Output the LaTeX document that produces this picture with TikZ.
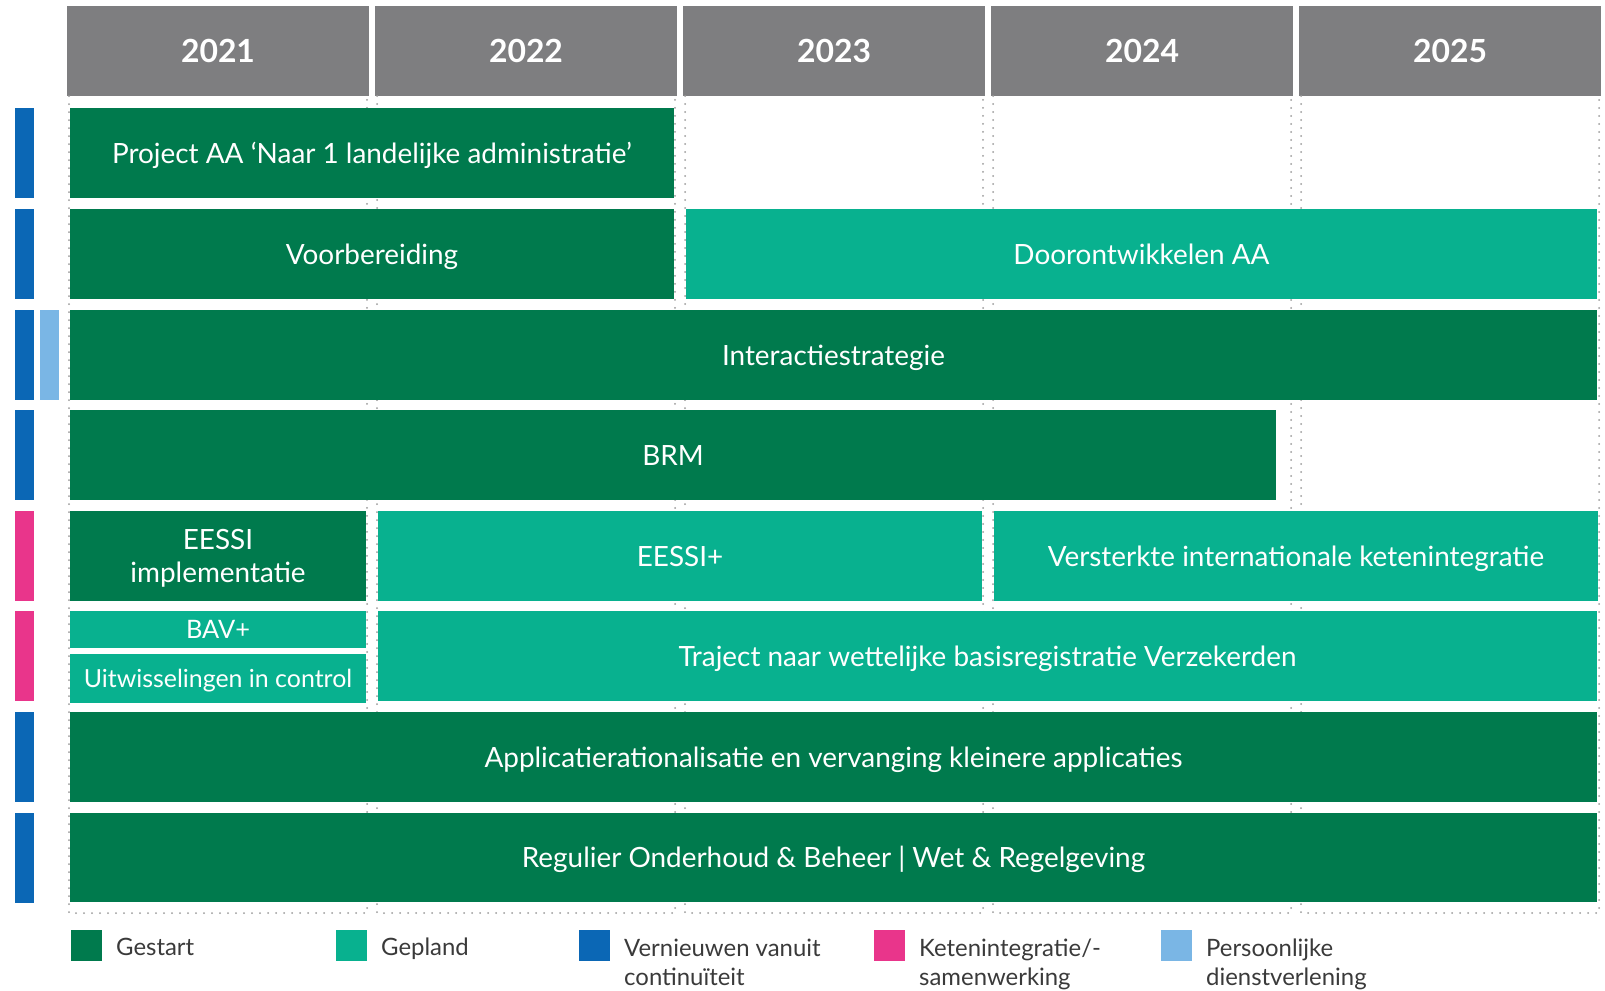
\documentclass[tikz,border=0pt]{standalone}
\usepackage{fontspec}
\setmainfont{Lato}
\definecolor{dg}{HTML}{007A4D}
\definecolor{tl}{HTML}{08B18F}
\definecolor{bl}{HTML}{0B67B5}
\definecolor{mg}{HTML}{E9358B}
\definecolor{lb}{HTML}{7AB6E5}
\definecolor{hd}{HTML}{7E7E80}
\definecolor{dt}{HTML}{9A9A9A}
\definecolor{lt}{HTML}{3A3A3A}
\tikzset{
  x=1bp, y=-1bp,
  cell/.style={inner sep=0pt, outer sep=0pt, draw=none, anchor=north west, text=white, align=center,
    font=\fontsize{28}{33}\selectfont, text height=20bp, text depth=0bp},
  hdr/.style={cell, fill=hd, minimum width=302bp, minimum height=90bp, font=\fontsize{32}{36}\selectfont\bfseries,
    text height=23bp},
  sq/.style={inner sep=0pt, outer sep=0pt, anchor=north west, minimum width=31bp, minimum height=31bp},
  lg/.style={anchor=west, inner sep=0pt, text=lt, align=left, font=\fontsize{24}{29}\selectfont},
  dots/.style={dt, line width=2bp, line cap=round, dash pattern=on 0bp off 8bp},
}
\begin{document}
\begin{tikzpicture}
\useasboundingbox (0,0) rectangle (1605,990);
% headers
\foreach \i/\yr in {0/2021,1/2022,2/2023,3/2024,4/2025}{
  \node[hdr] (h\yr) at ({67+308*\i},6) {\yr};
}
% dotted column outlines
\foreach \i in {0,...,4}{
  \coordinate (ct\i) at ({69+308*\i},96);
  \coordinate (cb\i) at ({69+308*\i},913);
  \coordinate (dt\i) at ({367+308*\i},96);
  \coordinate (db\i) at ({367+308*\i},913);
  \draw[dots] (ct\i) -- (cb\i) -- (db\i) -- (dt\i);
}
% left markers
\foreach \r/\t/\c in {1/108/bl,2/209/bl,3/310/bl,4/410/bl,5/511/mg,6/611/mg,7/712/bl,8/813/bl}{
  \node[sq, fill=\c, minimum width=19bp, minimum height=90bp] (m\r) at (15,\t) {};
}
\node[sq, fill=lb, minimum width=19bp, minimum height=90bp] (m3b) at (40,310) {};
% bars
\node[cell, fill=dg, minimum width=604bp, minimum height=90bp] (pa) at (70,108) {Project AA ‘Naar 1 landelijke administratie’};
\node[cell, fill=dg, minimum width=604bp, minimum height=90bp] (vb) at (70,209) {Voorbereiding};
\node[cell, fill=tl, minimum width=911bp, minimum height=90bp] (da) at (686,209) {Doorontwikkelen AA};
\node[cell, fill=dg, minimum width=1527bp, minimum height=90bp] (is) at (70,310) {Interactiestrategie};
\node[cell, fill=dg, minimum width=1206bp, minimum height=90bp] (brm) at (70,410) {BRM};
\node[cell, fill=dg, minimum width=296bp, minimum height=90bp, text height=53bp, text depth=0bp] (ei) at (70,511) {EESSI\\implementatie};
\node[cell, fill=tl, minimum width=604bp, minimum height=90bp] (ep) at (378,511) {EESSI+};
\node[cell, fill=tl, minimum width=604bp, minimum height=90bp] (vik) at (994,511) {Versterkte internationale ketenintegratie};
\node[cell, fill=tl, minimum width=296bp, minimum height=37bp, font=\fontsize{25.5}{30}\selectfont, text height=18bp] (bav) at (70,611) {BAV+};
\node[cell, fill=tl, minimum width=296bp, minimum height=49bp, font=\fontsize{25}{30}\selectfont, text height=18bp] (uic) at (70,654) {Uitwisselingen in control};
\node[cell, fill=tl, minimum width=1219bp, minimum height=90bp] (tr) at (378,611) {Traject naar wettelijke basisregistratie Verzekerden};
\node[cell, fill=dg, minimum width=1527bp, minimum height=90bp] (ap) at (70,712) {Applicatierationalisatie en vervanging kleinere applicaties};
\node[cell, fill=dg, minimum width=1527bp, minimum height=89bp] (ro) at (70,813) {Regulier Onderhoud \& Beheer | Wet \& Regelgeving};
% legend
\node[sq, fill=dg] (lg1) at (71,930) {};
\node[lg, anchor=base west] (lt1) at (116,955.5) {Gestart};
\node[sq, fill=tl] (lg2) at (336,930) {};
\node[lg, anchor=base west] (lt2) at (381,955.5) {Gepland};
\node[sq, fill=bl] (lg3) at (579,930) {};
\node[lg, anchor=north west] (lt3) at (624,939) {Vernieuwen vanuit\\continuïteit};
\node[sq, fill=mg] (lg4) at (874,930) {};
\node[lg, anchor=north west] (lt4) at (919,939) {Ketenintegratie/-\\samenwerking};
\node[sq, fill=lb] (lg5) at (1161,930) {};
\node[lg, anchor=north west] (lt5) at (1206,939) {Persoonlijke\\dienstverlening};
\end{tikzpicture}
\end{document}
